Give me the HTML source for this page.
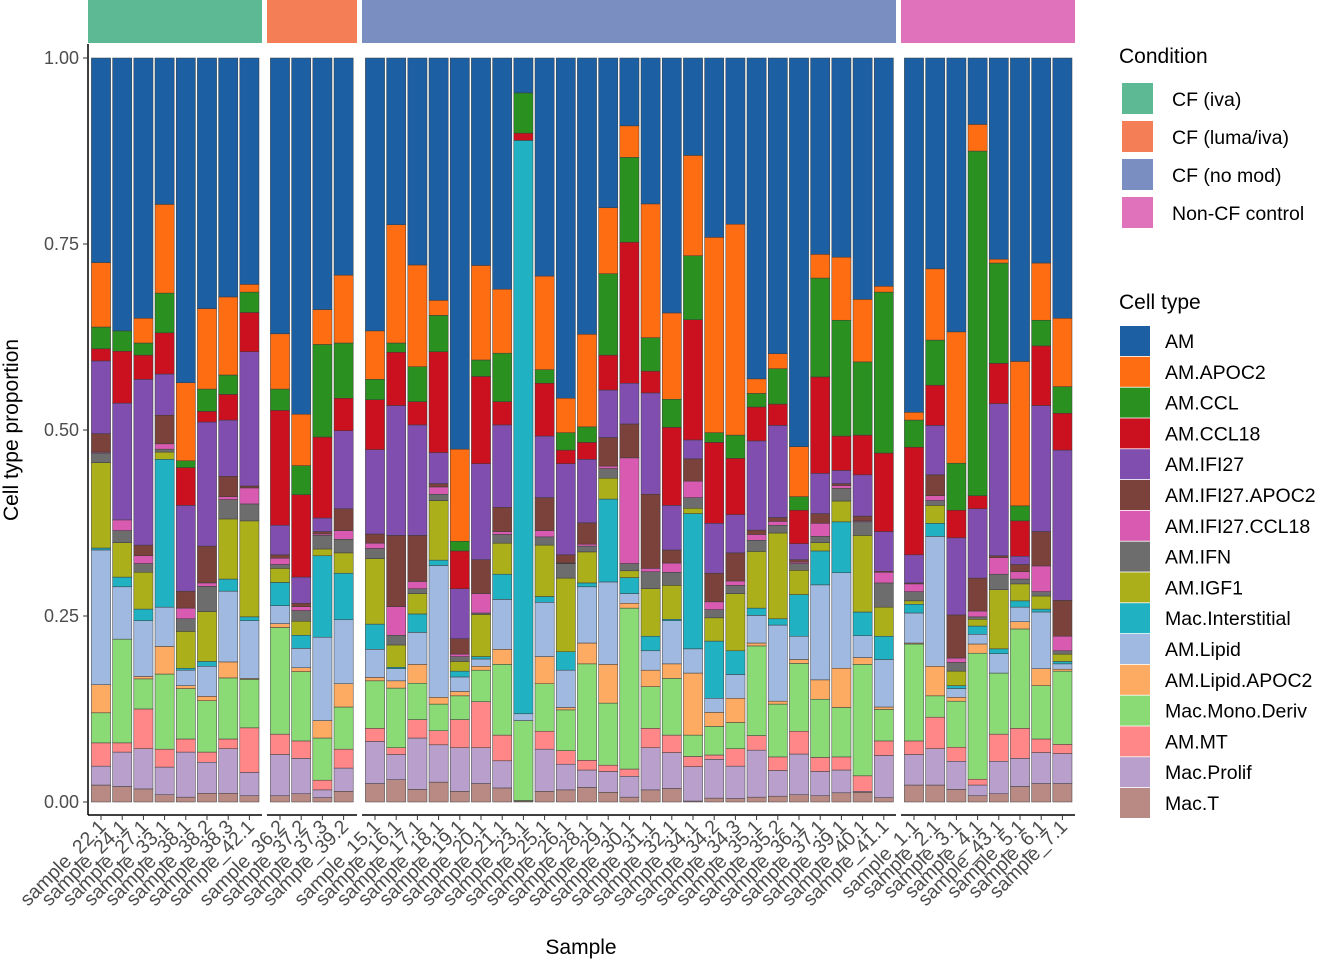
<!DOCTYPE html>
<html><head><meta charset="utf-8"><style>
html,body{margin:0;padding:0;background:#fff;}
svg{display:block;font-family:"Liberation Sans",sans-serif;}
</style></head><body>
<svg id="chart" width="1344" height="960" viewBox="0 0 1344 960"></svg>
<script>
// ---- data ----
const groups = ["CF (iva)","CF (luma/iva)","CF (no mod)","Non-CF control"];
const groupColors = ["#5CB994","#F47E55","#7B8EC2","#E072BB"];
const samples1 = ["22.1","24.1","27.1","33.1","38.1","38.2","38.3","42.1"];
const samples2 = ["36.2","37.2","37.3","39.2"];
const samples3 = ["15.1","16.1","17.1","18.1","19.1","20.1","21.1","23.1","25.1","26.1","28.1","29.1","30.1","31.1","32.1","34.1","34.2","34.3","35.1","35.2","36.1","37.1","39.1","40.1","41.1"];
const samples4 = ["1.1","2.1","3.1","4.1","43.1","5.1","6.1","7.1"];
const cellTypes = ["Mac.T","Mac.Prolif","AM.MT","Mac.Mono.Deriv","AM.Lipid.APOC2","AM.Lipid","Mac.Interstitial","AM.IGF1","AM.IFN","AM.IFI27.CCL18","AM.IFI27.APOC2","AM.IFI27","AM.CCL18","AM.CCL","AM.APOC2","AM"];
const cellColors = ["#B88A83","#B89FCC","#FF8787","#8ADB76","#FDAA62","#9FB9E0","#20B1C3","#ABAF1A","#6D6D6D","#D95BB1","#7A423A","#804EAE","#CB101F","#2A9120","#FF6D12","#1C5FA3"];
// counts per cell type, one per sample in order samples1..samples4
const vMacT = [35,32,27,15,10,18,18,13, 13,17,9,22, 38,46,26,41,22,38,29,2,22,25,30,20,10,25,28,2,8,7,10,12,15,13,19,20,9, 35,35,26,13,17,32,38,38];
const vMacProlif = [39,71,83,57,93,64,92,48, 85,73,16,48, 87,52,106,77,90,74,56,0,87,53,36,43,43,87,74,71,80,67,97,53,84,50,47,2,87, 63,75,58,22,67,58,64,62];
const vAMMT = [48,19,82,37,27,21,20,92, 42,36,20,39, 27,14,38,29,58,95,53,1,37,28,20,13,15,40,36,21,9,36,30,28,47,29,27,32,30, 28,65,29,12,56,62,28,19];
const vMonoDeriv = [62,214,62,155,104,106,126,100, 220,143,87,87, 98,123,75,55,49,65,146,165,98,84,199,128,332,86,117,44,59,54,185,109,140,120,102,230,65, 200,44,95,260,126,205,110,151];
const vLipidAPOC2 = [58,0,5,57,6,9,33,2, 8,8,36,48, 7,15,39,14,9,8,31,0,56,5,43,80,10,34,30,128,29,50,6,6,8,40,81,14,5, 2,61,8,19,0,15,35,4];
const vLipid = [278,108,115,81,32,62,146,119, 37,40,172,132, 58,25,66,272,30,15,103,14,112,77,116,170,20,40,89,50,29,49,57,157,48,196,197,45,98, 62,268,18,20,40,30,117,11];
const vInterstitial = [4,20,24,305,4,10,25,8, 48,27,168,96, 52,3,38,11,12,5,52,1183,12,38,8,171,33,30,3,279,118,49,15,13,86,70,105,49,48, 18,27,6,17,10,13,6,5];
const vIGF1 = [176,71,76,15,76,103,124,198, 29,29,14,42, 135,46,42,123,20,87,64,0,106,152,64,43,14,98,70,11,48,118,117,177,50,17,43,158,60, 7,37,30,14,122,35,27,15];
const vIFN = [20,25,18,6,26,52,40,35, 8,22,28,28, 21,20,10,13,10,3,18,0,17,30,12,20,15,35,27,22,17,17,23,16,14,13,26,28,50, 19,10,18,5,32,10,9,7];
const vIFI27CCL18 = [2,22,16,11,22,7,6,33, 13,8,3,18, 11,59,15,15,5,40,6,0,13,1,4,5,218,7,19,34,16,9,12,8,3,27,6,2,22, 16,10,9,12,34,15,53,30];
const vIFI27APOC2 = [38,0,22,59,35,76,42,4, 7,7,5,45, 19,147,95,7,32,70,50,0,68,17,44,59,70,153,27,46,59,58,9,8,5,20,4,10,2, 2,43,89,68,4,15,71,74];
const vIFI27 = [150,241,342,85,177,256,116,277, 61,54,28,161, 174,268,228,64,103,198,170,0,127,188,131,98,84,209,92,39,103,79,184,190,33,83,27,85,82, 58,102,159,143,314,17,260,310];
const vCCL18 = [25,107,50,85,78,22,53,81, 237,170,167,67, 103,110,48,208,78,180,48,15,109,28,35,72,291,45,161,248,167,116,70,44,69,199,71,82,162, 222,83,57,27,83,73,123,76];
const vCCL = [45,42,25,82,14,46,40,42, 44,60,191,114, 42,19,72,75,20,34,100,83,28,36,32,168,175,69,58,132,20,48,28,73,28,204,239,151,332, 56,93,97,711,207,31,53,55];
const vAPOC2 = [133,0,51,183,161,166,161,16, 114,106,72,140, 100,244,210,31,190,195,132,0,193,71,191,136,65,276,178,207,403,435,30,31,103,49,130,129,12, 16,147,271,55,8,298,118,141];
const vAM = [422,563,537,302,670,517,493,467, 569,735,519,448, 563,344,427,500,807,428,477,72,450,702,570,309,140,301,526,201,370,343,662,610,802,405,411,498,471, 731,435,565,137,415,626,423,537];
const yTicks = [0,0.25,0.5,0.75,1];
const yTickLabels = ["0.00","0.25","0.50","0.75","1.00"];

// ---- layout ----
const NS="http://www.w3.org/2000/svg";
const svg=document.getElementById('chart');
function mk(tag,attrs,parent){const e=document.createElementNS(NS,tag);for(const k in attrs)e.setAttribute(k,attrs[k]);(parent||svg).appendChild(e);return e;}
const series=[vMacT,vMacProlif,vAMMT,vMonoDeriv,vLipidAPOC2,vLipid,vInterstitial,vIGF1,vIFN,vIFI27CCL18,vIFI27APOC2,vIFI27,vCCL18,vCCL,vAPOC2,vAM];
const panelSamples=[samples1,samples2,samples3,samples4];
const band=21.2, barW=19.2, pad=13;
const panelLefts=[88,267,362,901];
const panelRights=[262,357,896,1075];
function yScale(p){return 802-p*744;}
function xCenter(panel,i){return panelLefts[panel]+pad+i*band;}

panelSamples.forEach((s,p)=>{
  const r=mk('rect',{x:panelLefts[p],y:0,width:panelRights[p]-panelLefts[p],height:43,fill:groupColors[p]});
  
  
});
const ya=mk('line',{x1:88,y1:44,x2:88,y2:815,stroke:'#000','stroke-width':1.5});


yTicks.forEach((t,i)=>{
  const y=yScale(t);
  const tk=mk('line',{x1:83,y1:y,x2:88,y2:y,stroke:'#333','stroke-width':1});
  
  
  const tx=mk('text',{x:79,y:y+6,'text-anchor':'end','font-size':18,fill:'#4d4d4d'});
  tx.textContent=yTickLabels[i];
  
  
});
let idx=0;
panelSamples.forEach((samps,p)=>{
  const xl=mk('line',{x1:panelLefts[p],y1:815,x2:panelRights[p],y2:815,stroke:'#000','stroke-width':1.5});
  
  
  samps.forEach((s,i)=>{
    const cx=xCenter(p,i);
    let total=0; series.forEach(a=>total+=a[idx]);
    let cum=0;
    const g=mk('g',{});
    
    
    series.forEach((a,k)=>{
      const v=a[idx]/total;
      if(v>0){
        const y0=yScale(cum), y1=yScale(cum+v);
        const r=mk('rect',{x:cx-barW/2,y:y1,width:barW,height:y0-y1,fill:cellColors[k],stroke:'#3a3a3a','stroke-width':0.5},g);
        
        
      }
      cum+=v;
    });
    const tk=mk('line',{x1:cx,y1:815,x2:cx,y2:820,stroke:'#333','stroke-width':1});
    
    
    const tx=mk('text',{x:cx+6,y:828,'text-anchor':'end','font-size':19.5,fill:'#4d4d4d',transform:`rotate(-45 ${cx+6} 828)`});
    tx.textContent='sample_'+s;
    
    
    idx++;
  });
});
const xt=mk('text',{x:581,y:954,'text-anchor':'middle','font-size':21,fill:'#000'});
xt.textContent='Sample';


const yt=mk('text',{x:18,y:430,'text-anchor':'middle','font-size':21,fill:'#000',transform:'rotate(-90 18 430)'});
yt.textContent='Cell type proportion';


const lt1=mk('text',{x:1119,y:63,'font-size':21,fill:'#000'});
lt1.textContent='Condition';


groups.forEach((g,i)=>{
  const y=83+i*38;
  const r=mk('rect',{x:1122,y:y,width:31,height:31,fill:groupColors[i]});
  
  
  const t=mk('text',{x:1172,y:y+23,'font-size':19.5,fill:'#000'});
  t.textContent=g;
  
  
});
const lt2=mk('text',{x:1119,y:309,'font-size':21,fill:'#000'});
lt2.textContent='Cell type';


for(let j=0;j<16;j++){
  const k=15-j;
  const y=326+j*30.8;
  const r=mk('rect',{x:1120,y:y,width:30,height:30,fill:cellColors[k]});
  
  
  const t=mk('text',{x:1165,y:y+22,'font-size':19.5,fill:'#000'});
  t.textContent=cellTypes[k];
  
  
}
</script>
</body></html>
